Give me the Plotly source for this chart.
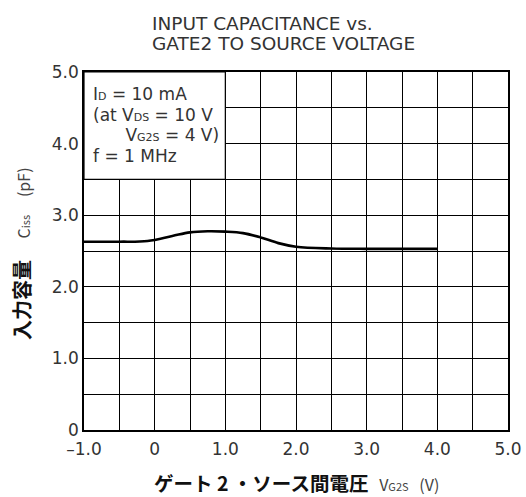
import plotly.graph_objects as go

title_lines = ["INPUT CAPACITANCE vs.", "GATE2 TO SOURCE VOLTAGE"]
vg2s = [-1.0, -0.5, -0.1, 0.25, 0.5, 0.75, 1.0, 1.25, 1.5, 1.75, 2.0, 2.5, 3.0, 3.5, 4.0]
ciss = [2.63, 2.63, 2.64, 2.71, 2.76, 2.775, 2.77, 2.75, 2.69, 2.61, 2.56, 2.535, 2.53, 2.53, 2.53]
x_tickvals = [-1.0, 0.0, 1.0, 2.0, 3.0, 4.0, 5.0]
x_ticktext = ["\u20131.0", "0", "1.0", "2.0", "3.0", "4.0", "5.0"]
y_tickvals = [0, 1.0, 2.0, 3.0, 4.0, 5.0]
y_ticktext = ["0", "1.0", "2.0", "3.0", "4.0", "5.0"]

SUB = "<span style='font-size:11px'>{}</span>"
cond_lines = [
    "I" + SUB.format("D") + " = 10 mA",
    "(at V" + SUB.format("DS") + " = 10 V",
    "      V" + SUB.format("G2S") + " = 4 V)",
    "f = 1 MHz",
]
y_title = ("<span style='font-size:20px;font-weight:bold;fill:#111'>入力容量</span>"
           "      C" + SUB.format("iss") + "     (pF)")
x_title = ("<span style='font-size:19.5px;font-weight:bold;fill:#111'>ゲート 2 ・ソース間電圧</span>"
           "   V" + SUB.format("G2S") + "   (V)")

FONT = "DejaVu Sans, Noto Sans CJK JP, sans-serif"
JFONT = "Noto Sans CJK JP, DejaVu Sans, sans-serif"
TXT = "#333333"

W, H = 526, 497
ML, MT, MR, MB = 84, 72, 18, 67

fig = go.Figure()
fig.add_trace(go.Scatter(
    x=vg2s, y=ciss, mode="lines",
    line=dict(color="black", width=2.6, shape="spline", smoothing=1.0),
    showlegend=False, hoverinfo="skip"))

grid = dict(showgrid=True, gridcolor="black", gridwidth=1,
            showline=True, linecolor="black", linewidth=1.6, mirror=True,
            zeroline=False, ticks="", ticklen=0, automargin=False,
            tickfont=dict(family=FONT, size=17, color=TXT))

fig.update_xaxes(range=[-1, 5], tickmode="array", tickvals=x_tickvals, ticktext=x_ticktext,
                 minor=dict(dtick=0.5, showgrid=True, gridcolor="black", gridwidth=1),
                 ticklabelstandoff=3, **grid)
fig.update_yaxes(range=[0, 5], tickmode="array", tickvals=y_tickvals, ticktext=y_ticktext,
                 minor=dict(dtick=0.5, showgrid=True, gridcolor="black", gridwidth=1),
                 **grid)

# condition box (white, covers grid)
fig.add_shape(type="rect", xref="x", yref="y", x0=-1, x1=1, y0=3.5, y1=5,
              fillcolor="white", line=dict(color="black", width=1.2), layer="above")
for i, ln in enumerate(cond_lines):
    fig.add_annotation(xref="x", yref="paper", x=-0.9, y=1, xanchor="left", yanchor="middle",
                       yshift=-(22 + 20.5 * i), text=ln, showarrow=False, align="left",
                       font=dict(family=FONT, size=17, color=TXT))

# chart title (two tight, left-aligned lines)
for i, ln in enumerate(title_lines):
    fig.add_annotation(xref="paper", yref="paper", x=0, y=1, xanchor="left", yanchor="middle",
                       xshift=150 - ML, yshift=MT - (23 + 20 * i), text=ln,
                       showarrow=False, font=dict(family=FONT, size=18.5, color=TXT))

# axis titles
fig.add_annotation(xref="paper", yref="paper", x=0.5, y=0, xanchor="center", yanchor="middle",
                   yshift=-52, text=x_title, showarrow=False,
                   font=dict(family=JFONT, size=16, color="#444"))
fig.add_annotation(xref="paper", yref="paper", x=0, y=0.5, xanchor="center", yanchor="middle",
                   xshift=-63, yshift=-3, textangle=-90, text=y_title, showarrow=False,
                   font=dict(family=JFONT, size=16, color="#444"))

fig.update_layout(
    width=W, height=H,
    margin=dict(l=ML, r=MR, t=MT, b=MB),
    paper_bgcolor="white", plot_bgcolor="white",
)
fig.write_html("out.html", config={"displayModeBar": False},
               post_script="document.body.style.margin='0';document.body.style.overflow='hidden';")
